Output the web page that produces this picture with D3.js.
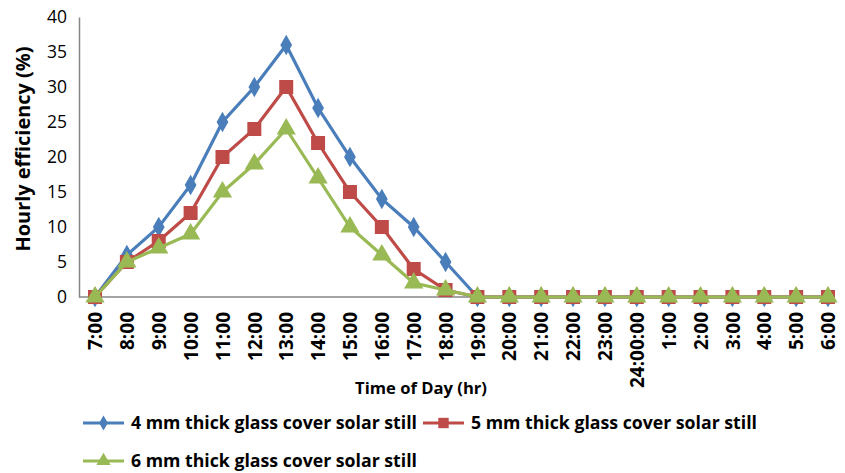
<!DOCTYPE html>
<html>
<head>
<meta charset="utf-8">
<script src="https://cdn.jsdelivr.net/npm/d3@7"></script>
<style>
  body { margin: 0; background: #fff; }
  svg { display: block; }
</style>
</head>
<body>
<div id="chart"></div>
<script>
const hours = ['7:00', '8:00', '9:00', '10:00', '11:00', '12:00', '13:00', '14:00', '15:00',
  '16:00', '17:00', '18:00', '19:00', '20:00', '21:00', '22:00', '23:00', '24:00:00',
  '1:00', '2:00', '3:00', '4:00', '5:00', '6:00'];

const glass4mm = [0, 6, 10, 16, 25, 30, 36, 27, 20, 14, 10, 5, 0, 0, 0, 0, 0, 0, 0, 0, 0, 0, 0, 0];
const glass5mm = [0, 5, 8, 12, 20, 24, 30, 22, 15, 10, 4, 1, 0, 0, 0, 0, 0, 0, 0, 0, 0, 0, 0, 0];
const glass6mm = [0, 5, 7, 9, 15, 19, 24, 17, 10, 6, 2, 1, 0, 0, 0, 0, 0, 0, 0, 0, 0, 0, 0, 0];

const yTicks = [0, 5, 10, 15, 20, 25, 30, 35, 40];

const series = [
  { name: '4 mm thick glass cover solar still', values: glass4mm, color: '#4a7ebb', symbol: d3.symbolDiamond, size: 120 },
  { name: '5 mm thick glass cover solar still', values: glass5mm, color: '#be4b48', symbol: d3.symbolSquare, size: 196 },
  { name: '6 mm thick glass cover solar still', values: glass6mm, color: '#98b954', symbol: d3.symbolTriangle, size: 160 }
];

const width = 845;
const height = 473;
const font = '"Open Sans", "Noto Sans", sans-serif';

const svg = d3.select('#chart')
  .append('svg')
  .attr('width', width)
  .attr('height', height);

function fit(sel, target) {
  sel.each(function () {
    const len = this.getComputedTextLength();
    const fs = parseFloat(d3.select(this).attr('font-size'));
    d3.select(this).attr('font-size', (fs * target / len).toFixed(2) + 'px');
  });
}

const plotLeft = 79, plotRight = 835, plotTop = 17, plotBottom = 297;

const x = d3.scalePoint()
  .domain(hours)
  .range([95, 828]);

const y = d3.scaleLinear()
  .domain([0, 40])
  .range([plotBottom, plotTop]);

// Y axis
const yAxis = svg.append('g')
  .attr('transform', `translate(${plotLeft},0)`)
  .call(d3.axisLeft(y).tickValues(yTicks).tickSize(0).tickPadding(12));
yAxis.select('.domain').attr('stroke', '#868686').attr('stroke-width', 1.5);
yAxis.selectAll('text')
  .attr('font-family', font)
  .attr('font-size', '17.5px')
  .attr('fill', '#000');

// X axis
const xAxis = svg.append('g')
  .attr('transform', `translate(0,${plotBottom})`)
  .call(d3.axisBottom(x).tickSize(0).tickSizeOuter(0));
xAxis.select('.domain')
  .attr('d', `M${plotLeft},0H${plotRight}`)
  .attr('stroke', '#868686')
  .attr('stroke-width', 1.5);
xAxis.selectAll('text')
  .attr('font-family', font)
  .attr('font-size', '19px')
  .attr('font-weight', 'bold')
  .attr('fill', '#000')
  .attr('text-anchor', 'end')
  .attr('dy', '0.35em')
  .attr('transform', 'translate(0,15) rotate(-90)')
  .attr('x', 0)
  .attr('y', 0);

// Axis titles
svg.append('text')
  .attr('transform', `translate(23,${(plotTop + plotBottom) / 2 - 8}) rotate(-90)`)
  .attr('text-anchor', 'middle')
  .attr('dy', '0.35em')
  .attr('font-family', font)
  .attr('font-size', '16px')
  .attr('font-weight', 'bold')
  .text('Hourly efficiency (%)')
  .call(fit, 205);

svg.append('text')
  .attr('x', 421)
  .attr('y', 388)
  .attr('dy', '0.35em')
  .attr('text-anchor', 'middle')
  .attr('font-family', font)
  .attr('font-size', '16px')
  .attr('font-weight', 'bold')
  .text('Time of Day (hr)')
  .call(fit, 132);

// Lines and markers
const line = d3.line()
  .x((d, i) => x(hours[i]))
  .y(d => y(d));

series.forEach(s => {
  svg.append('path')
    .datum(s.values)
    .attr('fill', 'none')
    .attr('stroke', s.color)
    .attr('stroke-width', 3.2)
    .attr('d', line);

  svg.selectAll(null)
    .data(s.values)
    .enter()
    .append('path')
    .attr('transform', (d, i) => `translate(${x(hours[i])},${y(d)})`)
    .attr('d', d3.symbol().type(s.symbol).size(s.size))
    .attr('fill', s.color);
});

// Legend
const legendPos = [
  { x: 83, y: 423 },
  { x: 423, y: 423 },
  { x: 83, y: 461 }
];

series.forEach((s, i) => {
  const g = svg.append('g')
    .attr('transform', `translate(${legendPos[i].x},${legendPos[i].y})`);
  g.append('line')
    .attr('x1', 0).attr('x2', 41)
    .attr('stroke', s.color)
    .attr('stroke-width', 3);
  g.append('path')
    .attr('transform', 'translate(20.5,0)')
    .attr('d', d3.symbol().type(s.symbol).size(s.size * 0.55))
    .attr('fill', s.color);
  g.append('text')
    .attr('x', 48)
    .attr('dy', '0.35em')
    .attr('font-family', font)
    .attr('font-size', '15px')
    .attr('font-weight', 'bold')
    .text(s.name)
    .call(fit, 286);
});
</script>
</body>
</html>
